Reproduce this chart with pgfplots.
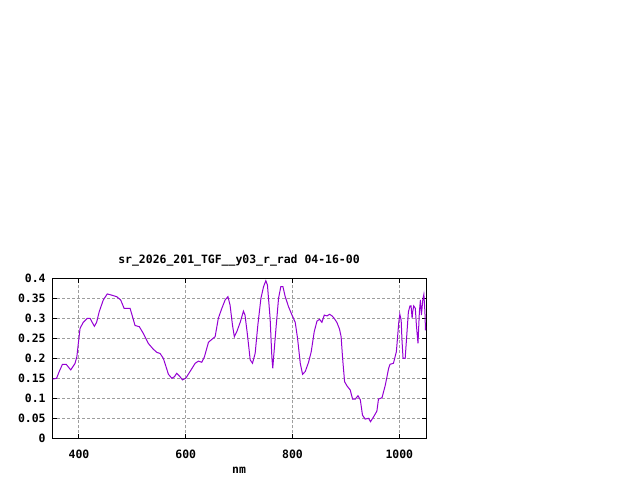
\documentclass[border=0pt]{standalone}
\usepackage{pgfplots}
\pgfplotsset{compat=1.18}
\usepackage{fontspec}
\setmonofont{DejaVu Sans Mono}
\definecolor{gpviolet}{RGB}{148,0,211}
\newcommand{\gpfont}{\ttfamily\bfseries\fontsize{11.5}{12}\selectfont}
\begin{document}
\begin{tikzpicture}
\path[use as bounding box] (0bp,0bp) rectangle (640bp,480bp);
\begin{axis}[
  at={(52.3bp,41.7bp)}, anchor=south west,
  width=373.7bp, height=160bp, scale only axis,
  xmin=350, xmax=1050, ymin=0, ymax=0.4,
  xtick={400,600,800,1000},
  xticklabels={400,600,800,1000},
  ytick={0,0.05,0.1,0.15,0.2,0.25,0.3,0.35,0.4},
  yticklabels={0,0.05,0.1,0.15,0.2,0.25,0.3,0.35,0.4},
  tick pos=both, tick align=inside,
  major tick length=4.5bp,
  tick style={line width=1bp, black},
  axis line style={line width=1bp, black},
  grid=major,
  grid style={dash pattern=on 3bp off 2bp, color=black!38, line width=1bp},
  ticklabel style={font=\gpfont},
  yticklabel style={anchor=east, inner sep=0pt, xshift=-6.5bp},
  xticklabel style={anchor=north, inner sep=0pt, yshift=-11bp},
]
\addplot[gpviolet, line width=1bp, mark=none] coordinates {
(350.7,0.148) (358,0.150) (363,0.167) (369,0.185) (376,0.185) (384.5,0.171)
(392.5,0.187) (396,0.204) (399,0.240) (402,0.275) (408,0.290) (415.6,0.300)
(420.7,0.300) (428.8,0.280) (433,0.290) (438,0.317) (445.6,0.346) (453,0.361)
(461,0.358) (470.7,0.354) (478,0.346) (484.5,0.325) (495.7,0.325) (502,0.296)
(505,0.282) (513,0.279) (520.6,0.262) (530,0.237) (539,0.223) (545.7,0.215)
(552,0.212) (558,0.200) (563,0.179) (567.5,0.160) (574,0.150) (578.8,0.154)
(583,0.1625) (588,0.156) (593.8,0.146) (600,0.150) (608,0.167) (617.6,0.1875)
(623.8,0.193) (630,0.190) (635,0.204) (642.5,0.240) (647.6,0.246) (655,0.254)
(661,0.300) (667.6,0.325) (673.8,0.346) (679,0.354) (683,0.333) (687.5,0.283)
(691,0.254) (695.7,0.267) (702,0.290) (708,0.318) (711,0.308) (715.6,0.258)
(720.7,0.196) (725,0.1875) (730,0.2125) (735,0.283) (740.8,0.350) (745.7,0.379)
(750,0.394) (753,0.383) (758,0.300) (761.4,0.200) (763,0.175) (764.4,0.200)
(769.5,0.283) (773.8,0.350) (778,0.379) (782,0.379) (786.3,0.354) (792.5,0.329)
(799,0.308) (805,0.290) (809.4,0.250) (814.5,0.1875) (818.8,0.160) (823.8,0.167)
(830,0.190) (835,0.2165) (840.7,0.267) (845.8,0.293) (850.6,0.2975) (855,0.290)
(859.5,0.308) (864.5,0.306) (869.4,0.310) (874,0.306) (878,0.300) (883,0.290)
(888,0.273) (891,0.254) (893.8,0.200) (897.5,0.1415) (902,0.131) (908,0.121)
(912.5,0.098) (917.6,0.098) (922.6,0.1065) (927,0.096) (931,0.058) (936,0.048)
(942.5,0.050) (946,0.0415) (952,0.054) (958,0.068) (961,0.098) (967.6,0.1015)
(973.8,0.133) (980,0.175) (982.6,0.185) (989,0.1875) (994.5,0.2165) (999,0.290)
(1001,0.310) (1003.5,0.295) (1005,0.246) (1007,0.200) (1011,0.200) (1014,0.258)
(1017,0.316) (1020,0.331) (1022,0.331) (1024,0.300) (1025,0.316) (1027,0.331)
(1030,0.325) (1032,0.283) (1035,0.2375) (1037.6,0.316) (1039.5,0.346) (1041.4,0.308)
(1044,0.346) (1046,0.360) (1048,0.316) (1049,0.270) (1050,0.280)
};
\end{axis}
\node[font=\gpfont, inner sep=0pt] at (239bp,219.5bp) {sr\_2026\_201\_TGF\_\_y03\_r\_rad 04-16-00};
\node[font=\gpfont, inner sep=0pt, anchor=base] at (239bp,6.5bp) {nm};
\end{tikzpicture}
\end{document}
